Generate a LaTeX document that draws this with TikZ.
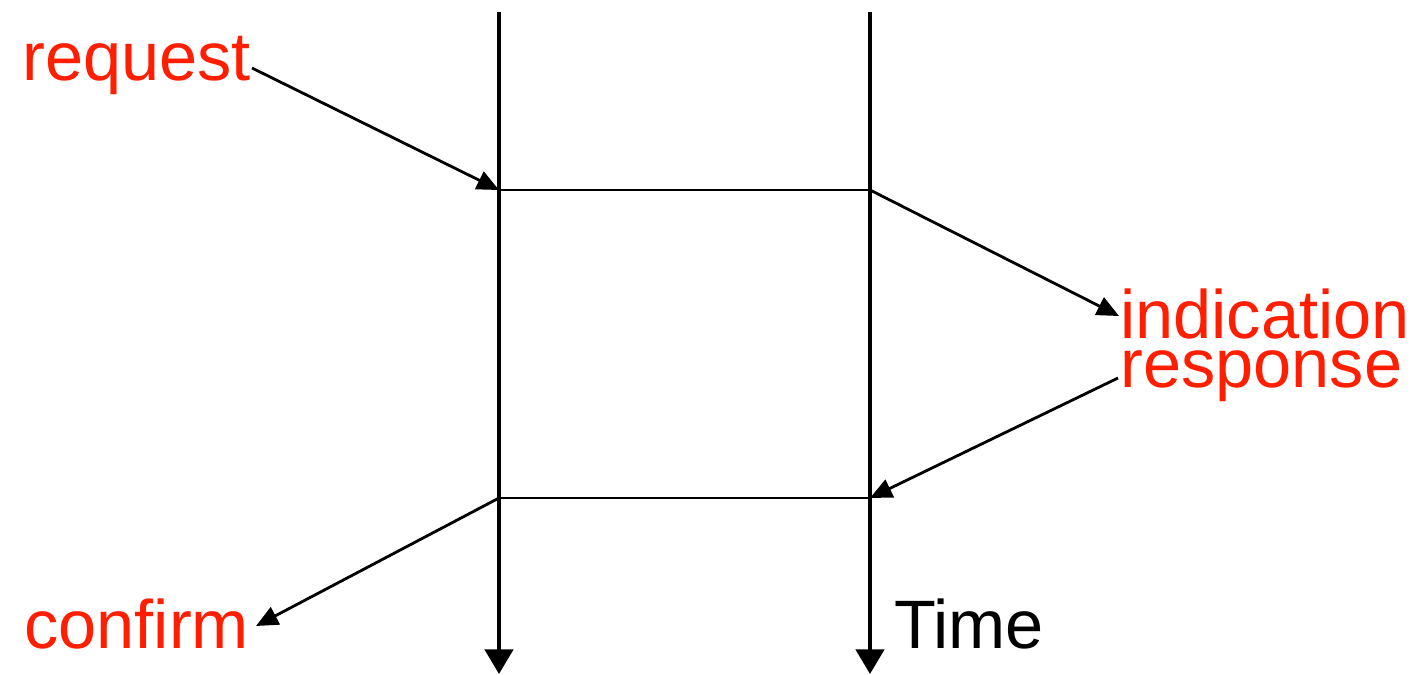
\documentclass[tikz,border=0pt]{standalone}
\usepackage{fontspec}
\setmainfont{Liberation Sans}
\usetikzlibrary{arrows.meta}
\definecolor{lblred}{RGB}{255,30,0}
\begin{document}
\begin{tikzpicture}[x=0.02cm,y=-0.02cm,
  lbl/.style={inner sep=0pt,anchor=base west,font=\fontsize{39}{41}\selectfont},
  redlbl/.style={lbl,text=lblred},
  timeline/.style={line width=2.3pt,-{Triangle[length=14pt,width=16pt]}},
  rung/.style={line width=1.6pt},
  msg/.style={line width=1.6pt,-{Triangle[length=12.5pt,width=11pt]}}]
\useasboundingbox (0,0) rectangle (1428,674);
% time lines
\coordinate (aTop) at (499,12);
\coordinate (aBot) at (499,674);
\coordinate (bTop) at (870,12);
\coordinate (bBot) at (870,674);
\coordinate (a1) at (499,190);
\coordinate (b1) at (870,190);
\coordinate (a2) at (499,498);
\coordinate (b2) at (870,498);
\draw[timeline] (aTop) -- (aBot);
\draw[timeline] (bTop) -- (bBot);
\draw[rung] (a1) -- (b1);
\draw[rung] (a2) -- (b2);
% labels
\node[redlbl] (request) at (22,80) {request};
\node[redlbl] (indication) at (1120,338) {indication};
\node[redlbl] (response) at (1120,387) {response};
\node[redlbl] (confirm) at (24,648) {confirm};
\node[lbl] (time) at (894,648) {Time};
% arrow ends at labels
\coordinate (reqEnd) at (252,68);
\coordinate (indEnd) at (1119,316);
\coordinate (resEnd) at (1118,378);
\coordinate (conEnd) at (256,626);
\draw[msg] (reqEnd) -- (a1);
\draw[msg] (b1) -- (indEnd);
\draw[msg] (resEnd) -- (b2);
\draw[msg] (a2) -- (conEnd);
\end{tikzpicture}
\end{document}
